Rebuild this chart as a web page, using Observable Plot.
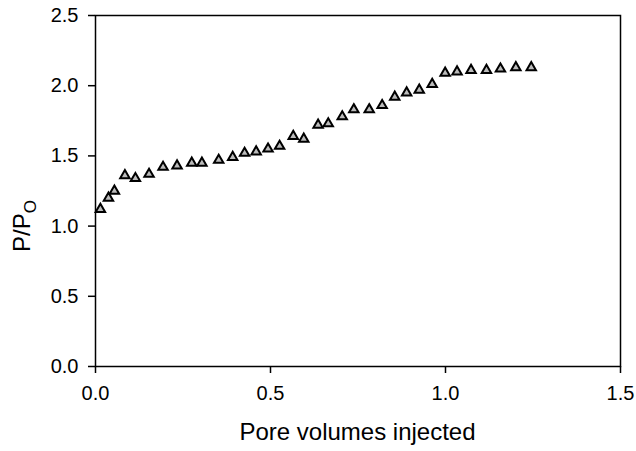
<!DOCTYPE html>
<html><head><meta charset="utf-8">
<script src="https://cdn.jsdelivr.net/npm/d3@7"></script>
<script src="https://cdn.jsdelivr.net/npm/@observablehq/plot@0.6"></script>
<style>body{margin:0;background:#fff}</style>
</head><body><div id="chart"></div>
<script>
const poreVolumes = [0.014,0.037,0.054,0.084,0.114,0.153,0.193,0.233,0.275,0.304,0.352,0.392,0.426,0.459,0.493,0.526,0.565,0.595,0.636,0.665,0.705,0.738,0.782,0.819,0.855,0.889,0.925,0.962,0.999,1.033,1.073,1.117,1.157,1.201,1.245];
const pressureRatio = [1.12,1.20,1.25,1.36,1.34,1.37,1.42,1.43,1.45,1.45,1.47,1.49,1.52,1.53,1.55,1.57,1.64,1.62,1.72,1.73,1.78,1.83,1.83,1.86,1.92,1.95,1.97,2.01,2.09,2.10,2.11,2.11,2.12,2.13,2.13];
const xTicks = [0, 0.5, 1.0, 1.5];
const yTicks = [0, 0.5, 1.0, 1.5, 2.0, 2.5];
const data = poreVolumes.map((x, i) => ({x, y: pressureRatio[i]}));

const W = 636, H = 451, mL = 95, mR = 16, mT = 15, mB = 85;
const font = "Liberation Sans, Arial, sans-serif";
const plot = Plot.plot({
  width: W, height: H,
  marginLeft: mL, marginRight: mR, marginTop: mT, marginBottom: mB,
  style: {fontFamily: font, fontSize: "20px", color: "#000", background: "#fff", overflow: "visible"},
  x: {domain: [0, 1.5], label: null},
  y: {domain: [0, 2.5], label: null},
  marks: [
    Plot.frame({stroke: "#000", strokeWidth: 1.5}),
    Plot.axisX({ticks: xTicks, tickFormat: d3.format(".1f"), tickSize: 7, tickPadding: 12, strokeWidth: 1.5, label: null, fontSize: 20}),
    Plot.axisY({ticks: yTicks, tickFormat: d3.format(".1f"), tickSize: 7, tickPadding: 10, strokeWidth: 1.5, label: null, fontSize: 20}),
    Plot.dot(data, {x: "x", y: "y", symbol: "triangle", r: 3.5, fill: "#bbb", stroke: "#000", strokeWidth: 2})
  ]
});
const svg = d3.select(plot);
svg.append("text")
  .attr("x", mL + (W - mL - mR) / 2).attr("y", 440)
  .attr("text-anchor", "middle")
  .style("font-family", font).style("font-size", "24px").attr("fill", "#000")
  .text("Pore volumes injected");
const yl = svg.append("text")
  .attr("transform", `translate(30, 226) rotate(-90)`)
  .attr("text-anchor", "middle")
  .style("font-family", font).style("font-size", "24px").attr("fill", "#000");
yl.append("tspan").text("P/P");
yl.append("tspan").attr("dy", 6).style("font-size", "17px").text("O");
document.getElementById("chart").appendChild(plot);
</script></body></html>
